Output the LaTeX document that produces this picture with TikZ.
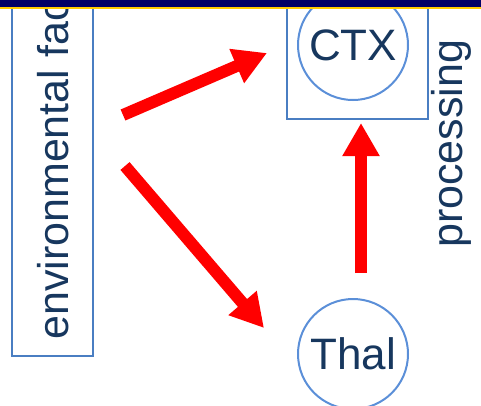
\documentclass[tikz,border=0pt]{standalone}
\usepackage{fontspec}
\setmainfont{Liberation Sans}
\usetikzlibrary{arrows.meta}
\definecolor{navyband}{HTML}{000066}
\definecolor{goldline}{HTML}{FFCC00}
\definecolor{txtblue}{HTML}{17375E}
\definecolor{boxblue}{HTML}{4A7EC2}
\definecolor{ringblue}{HTML}{5B8FD8}
\definecolor{arrowred}{HTML}{FF0000}
\tikzset{
  bigtext/.style={font=\fontsize{43}{48}\selectfont, text=txtblue, inner sep=0pt},
  ring/.style={circle, draw=ringblue, line width=2pt, minimum size=110pt, inner sep=0pt,
               font=\fontsize{44}{48}\selectfont, text=txtblue},
  frame/.style={draw=boxblue, line width=2pt},
  redarrow/.style={draw=arrowred, line width=12pt,
     -{Triangle[width=35pt,length=33pt]}}
}
\begin{document}
\begin{tikzpicture}[x=1pt,y=-1pt]
\useasboundingbox (0,0) rectangle (481,405);
\clip (0,0) rectangle (481,405);
% left box with vertical text
\node[frame, rectangle, minimum width=81pt, minimum height=380pt, inner sep=0pt, anchor=south west] (envbox) at (11,357) {};
\node[bigtext, rotate=90, anchor=base west] (envtext) at (68,340) {environmental fac};
% CTX box and circle
\node[frame, rectangle, minimum width=141pt, minimum height=140pt, inner sep=0pt, anchor=south west] (ctxbox) at (286,120) {};
\node[ring] (ctx) at (353,45) {CTX};
\node[bigtext, rotate=90, anchor=base west] (proc) at (462,248) {processing};
% Thal
\node[ring] (thal) at (353,354) {Thal};
% arrow end points
\coordinate (a1s) at (123,115);
\coordinate (a1e) at (267,53);
\coordinate (a2s) at (125,166);
\coordinate (a2e) at (264,328);
\coordinate (a3s) at (361,273);
\coordinate (a3e) at (361,123);
\draw[redarrow] (a1s) -- (a1e);
\draw[redarrow] (a2s) -- (a2e);
\draw[redarrow] (a3s) -- (a3e);
% top band
\fill[goldline] (0,0) rectangle (481,9.3);
\fill[navyband] (0,0) rectangle (481,7);
\end{tikzpicture}
\end{document}
